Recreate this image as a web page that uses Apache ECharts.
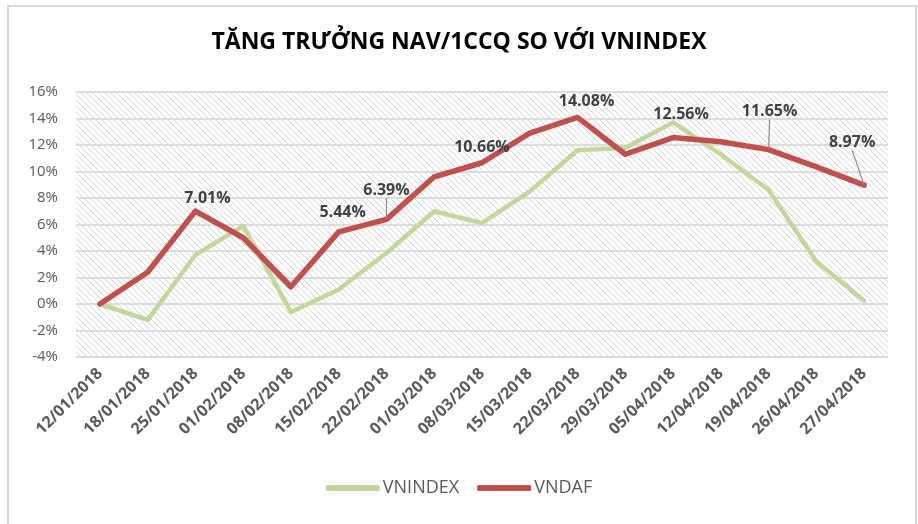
<!DOCTYPE html>
<html>
<head>
<meta charset="utf-8">
<script src="https://cdn.jsdelivr.net/npm/echarts@6/dist/echarts.min.js"></script>
<style>
  html, body { margin: 0; padding: 0; background: #fff; }
  #frame { position: absolute; left: 7px; top: 5px; width: 906px; height: 540px; border: 2px solid #d9d9d9; border-bottom: none; }
  #chart { position: absolute; left: 0; top: 0; width: 918px; height: 524px; }
</style>
</head>
<body>
<div id="frame"></div>
<div id="chart"></div>
<script>
// ngày
var dates = ['12/01/2018', '18/01/2018', '25/01/2018', '01/02/2018', '08/02/2018', '15/02/2018',
  '22/02/2018', '01/03/2018', '08/03/2018', '15/03/2018', '22/03/2018', '29/03/2018',
  '05/04/2018', '12/04/2018', '19/04/2018', '26/04/2018', '27/04/2018'];
// tăng trưởng (%)
var vnindex = [0, -1.2, 3.7, 5.9, -0.6, 1.1, 3.85, 7.0, 6.1, 8.5, 11.6, 11.8, 13.7, 11.3, 8.6, 3.2, 0.25];
var vndaf = [0, 2.4, 7.01, 5.0, 1.3, 5.44, 6.39, 9.6, 10.66, 12.9, 14.08, 11.3, 12.56, 12.25, 11.65, 10.35, 8.97];
// điểm có nhãn
var labelIdx = [2, 5, 6, 8, 10, 12, 14, 16];
var leaderIdx = [6, 14, 16];
var labelShift = { 2: [12, 0], 5: [4, -6], 6: [0, -16], 8: [0, -2], 10: [9, -3], 12: [8, -10], 14: [1, -25], 16: [-12, -30] };

// nền kẻ sọc
var pat = document.createElement('canvas');
pat.width = 6; pat.height = 6;
var ctx = pat.getContext('2d');
ctx.fillStyle = '#ffffff';
ctx.fillRect(0, 0, 6, 6);
ctx.strokeStyle = '#d6d6d6';
ctx.lineWidth = 1;
[-6, 0, 6].forEach(function (o) {
  ctx.beginPath();
  ctx.moveTo(o, 0);
  ctx.lineTo(o + 6, 6);
  ctx.stroke();
});

var chart = echarts.init(document.getElementById('chart'));

var vndafData = vndaf.map(function (v, i) {
  var item = { value: v };
  if (labelIdx.indexOf(i) >= 0) {
    item.label = { show: true };
    item.labelLine = { show: leaderIdx.indexOf(i) >= 0 };
  }
  return item;
});

var option = {
  animation: false,
  title: {
    text: 'TĂNG TRƯỞNG NAV/1CCQ SO VỚI VNINDEX',
    left: 'center',
    top: 26,
    textStyle: { fontFamily: 'Open Sans', fontWeight: 'bold', fontSize: 23, color: '#000' }
  },
  legend: {
    bottom: 22,
    left: 'center',
    icon: 'roundRect',
    itemWidth: 54,
    itemHeight: 6,
    itemGap: 18,
    textStyle: { fontFamily: 'Open Sans', fontSize: 18, color: '#595959', padding: [0, 0, 0, -2] },
    data: ['VNINDEX', 'VNDAF']
  },
  grid: {
    left: 76, right: 30, top: 92, bottom: 167,
    show: true,
    borderWidth: 0,
    backgroundColor: { image: pat, repeat: 'repeat' }
  },
  xAxis: {
    type: 'category',
    data: dates,
    axisLine: { show: false },
    axisTick: { show: false },
    axisLabel: {
      rotate: 45, interval: 0, margin: 14,
      fontFamily: 'Open Sans', fontWeight: 'bold', fontSize: 16, color: '#595959'
    }
  },
  yAxis: {
    type: 'value',
    min: -4, max: 16, interval: 2,
    axisLine: { show: false },
    axisTick: { show: false },
    axisLabel: {
      formatter: '{value}%', margin: 18,
      fontFamily: 'Open Sans', fontSize: 15, color: '#595959'
    },
    splitLine: { lineStyle: { color: '#dcdcdc', width: 2 } }
  },
  series: [
    {
      name: 'VNINDEX',
      type: 'line',
      data: vnindex,
      symbol: 'none',
      color: '#c3d69b',
      lineStyle: { width: 4.5, color: '#c3d69b', cap: 'round', join: 'round' }
    },
    {
      name: 'VNDAF',
      type: 'line',
      data: vndafData,
      symbol: 'circle',
      symbolSize: 0.1,
      showSymbol: true,
      color: '#c0504d',
      lineStyle: { width: 5.5, color: '#c0504d', cap: 'round', join: 'round' },
      label: {
        show: false,
        position: 'top',
        formatter: function (p) { return p.value.toFixed(2) + '%'; },
        fontFamily: 'Open Sans', fontWeight: 'bold', fontSize: 16, color: '#404040'
      },
      labelLine: { show: false, lineStyle: { color: '#8c8c8c', width: 1.2 } },
      labelLayout: function (p) {
        var s = labelShift[p.dataIndex];
        if (!s) return {};
        return { dx: s[0], dy: s[1] };
      }
    }
  ]
};

chart.setOption(option);
</script>
</body>
</html>
